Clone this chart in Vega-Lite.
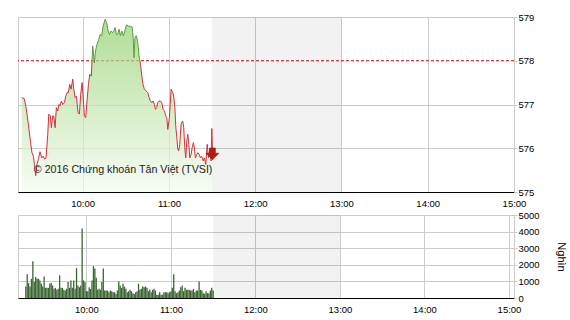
{
  "$schema": "https://vega.github.io/schema/vega-lite/v6.json",
  "padding": {"left": 17, "top": 11, "right": 5, "bottom": 5},
  "background": "#ffffff",
  "spacing": 1,
  "datasets": {
    "prices": [
      {"t":557.6,"p":577.16},{"t":559.4,"p":577.13},{"t":560.6,"p":576.93},{"t":562.2,"p":576.55},{"t":563.6,"p":576.17},
      {"t":564.7,"p":575.90},{"t":565.7,"p":575.82},{"t":566.4,"p":575.63},{"t":567.3,"p":575.37},{"t":568.2,"p":575.63},
      {"t":569.2,"p":575.75},{"t":570.3,"p":575.92},{"t":571.5,"p":575.78},{"t":572.6,"p":575.82},{"t":573.6,"p":575.75},
      {"t":574.5,"p":575.78},{"t":575.7,"p":576.32},{"t":576.4,"p":576.78},{"t":577.5,"p":576.74},{"t":578.2,"p":576.47},
      {"t":579.1,"p":576.74},{"t":579.8,"p":576.74},{"t":580.8,"p":576.47},{"t":581.7,"p":576.93},{"t":582.6,"p":576.85},
      {"t":583.5,"p":577.00},{"t":584.2,"p":576.97},{"t":585.2,"p":577.08},{"t":586.1,"p":577.00},{"t":587.3,"p":577.04},
      {"t":588.2,"p":577.19},{"t":589.1,"p":577.27},{"t":590.0,"p":577.27},{"t":591.0,"p":577.46},{"t":591.9,"p":577.35},
      {"t":593.1,"p":577.58},{"t":593.8,"p":577.35},{"t":594.7,"p":577.16},{"t":595.6,"p":577.19},{"t":596.8,"p":576.81},
      {"t":597.7,"p":576.78},{"t":598.6,"p":577.23},{"t":599.6,"p":577.50},{"t":600.2,"p":577.23},{"t":601.2,"p":576.74},
      {"t":602.1,"p":576.70},{"t":603.0,"p":577.08},{"t":604.0,"p":577.46},{"t":604.9,"p":577.69},{"t":606.0,"p":577.65},
      {"t":607.0,"p":578.34},{"t":608.1,"p":577.96},{"t":609.1,"p":578.26},{"t":610.0,"p":578.38},{"t":611.2,"p":578.49},
      {"t":612.1,"p":578.60},{"t":613.2,"p":578.57},{"t":614.2,"p":578.79},{"t":615.6,"p":578.95},{"t":616.7,"p":578.87},
      {"t":617.7,"p":578.68},{"t":618.6,"p":578.60},{"t":619.7,"p":578.68},{"t":620.7,"p":578.64},{"t":621.6,"p":578.68},
      {"t":622.5,"p":578.76},{"t":623.5,"p":578.60},{"t":624.4,"p":578.60},{"t":625.3,"p":578.72},{"t":626.2,"p":578.57},
      {"t":627.2,"p":578.68},{"t":628.3,"p":578.57},{"t":629.3,"p":578.68},{"t":630.4,"p":578.82},{"t":631.8,"p":578.79},
      {"t":633.2,"p":578.79},{"t":634.4,"p":578.77},{"t":635.1,"p":578.53},{"t":635.7,"p":578.07},{"t":636.4,"p":578.54},
      {"t":637.4,"p":578.57},{"t":638.3,"p":578.41},{"t":639.2,"p":578.11},{"t":640.2,"p":577.92},{"t":641.1,"p":577.65},
      {"t":642.0,"p":577.46},{"t":642.9,"p":577.35},{"t":644.1,"p":577.31},{"t":645.3,"p":577.27},{"t":646.2,"p":577.16},
      {"t":647.1,"p":577.08},{"t":648.0,"p":577.04},{"t":649.0,"p":577.08},{"t":649.9,"p":577.00},{"t":650.6,"p":576.89},
      {"t":651.5,"p":576.93},{"t":652.2,"p":577.04},{"t":653.1,"p":577.08},{"t":654.1,"p":577.08},{"t":655.0,"p":577.04},
      {"t":655.9,"p":576.89},{"t":656.9,"p":576.85},{"t":657.8,"p":576.74},{"t":658.5,"p":576.70},{"t":659.2,"p":576.43},
      {"t":660.3,"p":576.70},{"t":661.5,"p":577.35},{"t":662.7,"p":577.27},{"t":663.4,"p":577.16},{"t":664.1,"p":576.93},
      {"t":664.8,"p":576.47},{"t":665.5,"p":576.24},{"t":666.1,"p":575.98},{"t":666.8,"p":575.94},{"t":667.5,"p":576.09},
      {"t":668.5,"p":576.58},{"t":669.6,"p":576.62},{"t":670.3,"p":576.47},{"t":671.0,"p":576.01},{"t":671.7,"p":575.78},
      {"t":672.4,"p":576.17},{"t":673.1,"p":576.32},{"t":673.8,"p":576.09},{"t":674.5,"p":575.78},{"t":675.4,"p":575.86},
      {"t":676.1,"p":576.01},{"t":677.0,"p":576.13},{"t":677.7,"p":576.01},{"t":678.4,"p":575.78},{"t":679.4,"p":575.86},
      {"t":680.1,"p":575.90},{"t":681.0,"p":575.86},{"t":681.9,"p":575.78},{"t":682.8,"p":575.82},{"t":683.8,"p":575.71},
      {"t":684.7,"p":575.78},{"t":685.6,"p":575.63},{"t":686.6,"p":576.09},{"t":687.5,"p":575.78},{"t":688.4,"p":575.98},
      {"t":689.3,"p":575.71},{"t":689.8,"p":576.45},{"t":690.3,"p":575.88}
    ],
    "volumes": [
      {"t":557,"v":700},{"t":558,"v":1430},{"t":559,"v":900},{"t":560,"v":690},{"t":561,"v":1160},{"t":562,"v":2220},
      {"t":563,"v":960},{"t":564,"v":1270},{"t":565,"v":1160},{"t":566,"v":1160},{"t":567,"v":1060},{"t":568,"v":860},
      {"t":569,"v":700},{"t":570,"v":1300},{"t":571,"v":610},{"t":572,"v":610},{"t":573,"v":610},{"t":574,"v":880},
      {"t":575,"v":900},{"t":576,"v":760},{"t":577,"v":550},{"t":578,"v":610},{"t":579,"v":490},{"t":580,"v":550},
      {"t":581,"v":1370},{"t":582,"v":610},{"t":583,"v":610},{"t":584,"v":490},{"t":585,"v":450},{"t":586,"v":550},
      {"t":587,"v":960},{"t":588,"v":610},{"t":589,"v":1060},{"t":590,"v":610},{"t":591,"v":1060},{"t":592,"v":550},
      {"t":593,"v":1800},{"t":594,"v":760},{"t":595,"v":650},{"t":596,"v":760},{"t":597,"v":4180},{"t":598,"v":1060},
      {"t":599,"v":960},{"t":600,"v":410},{"t":601,"v":410},{"t":602,"v":650},{"t":603,"v":550},{"t":604,"v":1060},
      {"t":605,"v":1920},{"t":606,"v":1780},{"t":607,"v":1220},{"t":608,"v":490},{"t":609,"v":550},{"t":610,"v":490},
      {"t":611,"v":960},{"t":612,"v":1780},{"t":613,"v":450},{"t":614,"v":450},{"t":615,"v":450},{"t":616,"v":350},
      {"t":617,"v":450},{"t":618,"v":410},{"t":619,"v":350},{"t":620,"v":350},{"t":621,"v":240},{"t":622,"v":450},
      {"t":623,"v":1000},{"t":624,"v":760},{"t":625,"v":610},{"t":626,"v":860},{"t":627,"v":690},{"t":628,"v":550},
      {"t":629,"v":350},{"t":630,"v":410},{"t":631,"v":490},{"t":632,"v":410},{"t":633,"v":290},{"t":634,"v":240},
      {"t":635,"v":350},{"t":636,"v":410},{"t":637,"v":860},{"t":638,"v":490},{"t":639,"v":550},{"t":640,"v":690},
      {"t":641,"v":650},{"t":642,"v":690},{"t":643,"v":610},{"t":644,"v":410},{"t":645,"v":490},{"t":646,"v":350},
      {"t":647,"v":490},{"t":648,"v":550},{"t":649,"v":450},{"t":650,"v":200},{"t":651,"v":200},{"t":652,"v":350},
      {"t":653,"v":200},{"t":654,"v":200},{"t":655,"v":350},{"t":656,"v":350},{"t":657,"v":350},{"t":658,"v":290},
      {"t":659,"v":350},{"t":660,"v":410},{"t":661,"v":610},{"t":662,"v":1430},{"t":663,"v":410},{"t":664,"v":290},
      {"t":665,"v":350},{"t":666,"v":450},{"t":667,"v":650},{"t":668,"v":760},{"t":669,"v":410},{"t":670,"v":610},
      {"t":671,"v":490},{"t":672,"v":490},{"t":673,"v":490},{"t":674,"v":450},{"t":675,"v":450},{"t":676,"v":550},
      {"t":677,"v":350},{"t":678,"v":450},{"t":679,"v":450},{"t":680,"v":1000},{"t":681,"v":490},{"t":682,"v":450},
      {"t":683,"v":290},{"t":684,"v":250},{"t":685,"v":410},{"t":686,"v":290},{"t":687,"v":290},{"t":688,"v":450},
      {"t":689,"v":610},{"t":690,"v":450}
    ],
    "breaks": [{"from": 690, "to": 780}],
    "ref": [{"price": 578}],
    "notes": [{"label": "© 2016 Chứng khoán Tân Việt (TVSI)", "t": 566, "p": 575.5}]
  },
  "vconcat": [
    {
      "width": 496,
      "height": 175,
      "layer": [
        {
          "data": {"name": "breaks"},
          "mark": {"type": "rect", "color": "#000000", "opacity": 0.05},
          "encoding": {
            "x": {"field": "from", "type": "quantitative"},
            "x2": {"field": "to"}
          }
        },
        {
          "data": {"name": "ref"},
          "mark": {"type": "rule", "color": "#cc0000", "strokeDash": [3, 2], "strokeWidth": 1},
          "encoding": {"y": {"field": "price", "type": "quantitative"}}
        },
        {
          "data": {"name": "prices"},
          "mark": {
            "type": "area",
            "opacity": 0.7,
            "fill": {"gradient": "linear", "x1": 0, "y1": 0, "x2": 0, "y2": 1,
              "stops": [{"offset": 0, "color": "#8fcf6a"}, {"offset": 1, "color": "#f5fbf0"}]}
          },
          "encoding": {
            "x": {"field": "t", "type": "quantitative"},
            "y": {"field": "p", "type": "quantitative"},
            "y2": {"datum": 575}
          }
        },
        {
          "data": {"name": "prices"},
          "mark": {
            "type": "line",
            "strokeWidth": 1,
            "stroke": {"gradient": "linear", "x1": 0, "y1": 0, "x2": 0, "y2": 1,
              "stops": [
                {"offset": 0, "color": "#55a03a"},
                {"offset": 0.266, "color": "#55a03a"},
                {"offset": 0.266, "color": "#d0303c"},
                {"offset": 1, "color": "#d0303c"}
              ]}
          },
          "encoding": {
            "x": {
              "field": "t", "type": "quantitative",
              "scale": {"domain": [555, 900], "nice": false, "zero": false},
              "axis": {
                "title": null, "values": [600, 660, 720, 780, 840, 900],
                "labelExpr": "floor(datum.value / 60) + ':00'",
                "grid": true, "ticks": false, "tickSize": 0, "domainColor": "#000000",
                "labelPadding": 6, "labelFlush": false, "labelOverlap": false
              }
            },
            "y": {
              "field": "p", "type": "quantitative",
              "scale": {"domain": [575, 579], "nice": false, "zero": false},
              "axis": {
                "title": null, "orient": "right", "values": [575, 576, 577, 578, 579],
                "format": "d", "tickSize": 3, "labelPadding": 1,
                "domainColor": "#cccccc", "tickColor": "#cccccc",
                "gridOpacity": {"condition": {"test": "datum.value === 578", "value": 0}, "value": 1}
              }
            }
          }
        },
        {
          "data": {"name": "notes"},
          "mark": {"type": "text", "align": "left", "baseline": "middle", "font": "Liberation Sans", "fontSize": 10.7, "color": "#222222"},
          "encoding": {
            "x": {"field": "t", "type": "quantitative"},
            "y": {"field": "p", "type": "quantitative"},
            "text": {"field": "label"}
          }
        },
        {
          "data": {"name": "prices"},
          "transform": [{"filter": "datum.t >= 690"}],
          "mark": {
            "type": "point", "filled": true, "opacity": 1, "size": 169,
            "shape": "M-0.45,-0.85 L0.45,-0.85 L0.45,-0.05 L1,-0.05 L0,0.95 L-1,-0.05 L-0.45,-0.05 Z",
            "color": "#b01e10", "stroke": "#8a1508", "strokeWidth": 0.5
          },
          "encoding": {
            "x": {"field": "t", "type": "quantitative"},
            "y": {"field": "p", "type": "quantitative"}
          }
        }
      ]
    },
    {
      "width": 496,
      "height": 83,
      "layer": [
        {
          "data": {"name": "breaks"},
          "mark": {"type": "rect", "color": "#000000", "opacity": 0.05},
          "encoding": {
            "x": {"field": "from", "type": "quantitative"},
            "x2": {"field": "to"}
          }
        },
        {
          "data": {"name": "volumes"},
          "mark": {"type": "bar", "size": 1.3, "color": "#3a6630"},
          "encoding": {
            "x": {
              "field": "t", "type": "quantitative",
              "scale": {"domain": [555, 900], "nice": false, "zero": false},
              "axis": {
                "title": null, "values": [600, 660, 720, 780, 840, 900],
                "labelExpr": "floor(datum.value / 60) + ':00'",
                "grid": true, "ticks": false, "tickSize": 0, "domainColor": "#000000",
                "labelPadding": 6, "labelFlush": false, "labelOverlap": false
              }
            },
            "y": {
              "field": "v", "type": "quantitative",
              "scale": {"domain": [0, 5000], "nice": false},
              "axis": {
                "title": "Nghìn", "orient": "right", "values": [0, 1000, 2000, 3000, 4000, 5000],
                "format": "d", "tickSize": 3, "labelPadding": 1,
                "domainColor": "#cccccc", "tickColor": "#cccccc",
                "titlePadding": 16, "titleFontSize": 11, "titleFontWeight": "normal",
                "titleFont": "Liberation Sans", "titleColor": "#000000"
              }
            }
          }
        }
      ]
    }
  ],
  "config": {
    "view": {"stroke": "#cccccc"},
    "axis": {
      "gridColor": "#cccccc",
      "labelFont": "Liberation Sans",
      "labelFontSize": 9.5,
      "labelColor": "#000000"
    }
  }
}
